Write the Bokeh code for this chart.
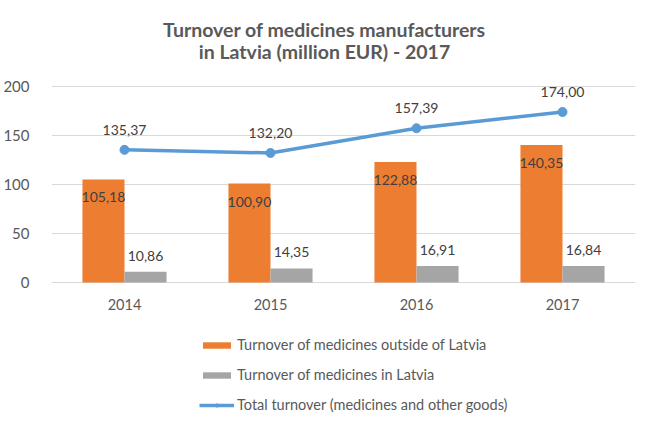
from bokeh.plotting import figure
from bokeh.models import (ColumnDataSource, FactorRange, Legend, LegendItem, Label,
                          LabelSet, FixedTicker, Range1d)
from bokeh.transform import dodge
from bokeh.core.properties import value
from bokeh.embed import file_html
from bokeh.resources import INLINE

years = ["2014", "2015", "2016", "2017"]
outside_latvia = [105.18, 100.90, 122.88, 140.35]
in_latvia = [10.86, 14.35, 16.91, 16.84]
total_turnover = [135.37, 132.20, 157.39, 174.00]
y_ticks = [0, 50, 100, 150, 200]

series_names = ["Turnover of medicines outside of Latvia",
                "Turnover of medicines in Latvia",
                "Total turnover (medicines and other goods)"]
title_lines = ["Turnover of medicines manufacturers",
               "in Latvia (million EUR) - 2017"]


def fmt(v):
    return f"{v:.2f}".replace(".", ",")


src = ColumnDataSource(dict(
    year=years,
    outside=outside_latvia,
    inside=in_latvia,
    total=total_turnover,
    outside_lbl=[fmt(v) for v in outside_latvia],
    inside_lbl=[fmt(v) for v in in_latvia],
    total_lbl=[fmt(v) for v in total_turnover],
))

FONT = "Lato"
TXT = "#595959"
LBL = "#404040"
ORANGE = "#ED7D31"
GRAY = "#A5A5A5"
BLUE = "#5B9BD5"

W, H = 642, 416
PX_PER_UNIT = 0.98          # vertical scale of the value axis
TOP_SPACE = 86              # pixels above the 200 line
BOTTOM_SPACE = 134          # pixels below the 0 line

p = figure(width=W, height=H, output_backend="svg", toolbar_location=None,
           x_range=FactorRange(*years, range_padding=0),
           y_range=Range1d(-BOTTOM_SPACE / PX_PER_UNIT, 200 + TOP_SPACE / PX_PER_UNIT),
           x_axis_location=None,
           min_border_left=51, min_border_right=7, min_border_top=0,
           min_border_bottom=0, title=None)
p.outline_line_color = None
p.background_fill_color = "white"
p.border_fill_color = "white"

off = 0.144
bw = 0.288
r_out = p.vbar(x=dodge("year", -off, range=p.x_range), top="outside", width=bw,
               source=src, fill_color=ORANGE, line_color=None)
r_in = p.vbar(x=dodge("year", off, range=p.x_range), top="inside", width=bw,
              source=src, fill_color=GRAY, line_color=None)
r_line = p.line(x="year", y="total", source=src, line_color=BLUE, line_width=3.5)
r_pts = p.scatter(x="year", y="total", source=src, size=9, fill_color=BLUE,
                  line_color=BLUE)

common = dict(source=src, text_font=value(FONT), text_font_size=value("14px"),
              text_color=LBL, text_align="center", text_baseline="middle")
p.add_layout(LabelSet(x=dodge("year", -off, range=p.x_range), y="outside",
                      text="outside_lbl", y_offset=-18, **common))
p.add_layout(LabelSet(x=dodge("year", off, range=p.x_range), y="inside",
                      text="inside_lbl", y_offset=16, **common))
p.add_layout(LabelSet(x="year", y="total", text="total_lbl", y_offset=20, **common))

# category labels under the 0 line
p.add_layout(LabelSet(x="year", y=0, text="year", y_offset=-22, source=src,
                      text_font=value(FONT), text_font_size=value("14.5px"),
                      text_color=TXT, text_align="center", text_baseline="middle"))

# value axis
p.yaxis.ticker = FixedTicker(ticks=y_ticks)
p.yaxis.axis_line_color = None
p.yaxis.major_tick_line_color = None
p.yaxis.minor_tick_line_color = None
p.yaxis.major_label_text_font = FONT
p.yaxis.major_label_text_font_size = "15px"
p.yaxis.major_label_text_color = TXT
p.yaxis.major_label_standoff = 16

p.xgrid.grid_line_color = None
p.ygrid.grid_line_color = "#D9D9D9"
p.ygrid.grid_line_width = 1

# title lines (screen units, relative to the plot frame)
p.add_layout(Label(x=273, y=H - 29, x_units="screen", y_units="screen",
                   text=title_lines[0], text_font=FONT, text_font_size="19.5px",
                   text_font_style="bold", text_color=TXT,
                   text_align="center", text_baseline="middle"))
p.add_layout(Label(x=273, y=H - 51, x_units="screen", y_units="screen",
                   text=title_lines[1], text_font=FONT, text_font_size="19.5px",
                   text_font_style="bold", text_color=TXT,
                   text_align="center", text_baseline="middle"))

legend = Legend(items=[LegendItem(label=series_names[0], renderers=[r_out]),
                       LegendItem(label=series_names[1], renderers=[r_in]),
                       LegendItem(label=series_names[2], renderers=[r_line, r_pts])],
                location=(148, 2), orientation="vertical",
                label_text_font=FONT, label_text_font_size="14.5px",
                label_text_color=TXT, glyph_width=35, glyph_height=8,
                label_height=19, spacing=11, padding=0, margin=0,
                label_standoff=3, border_line_alpha=0,
                background_fill_alpha=0)
p.add_layout(legend, "center")

open("out.html", "w").write(file_html(p, INLINE))
